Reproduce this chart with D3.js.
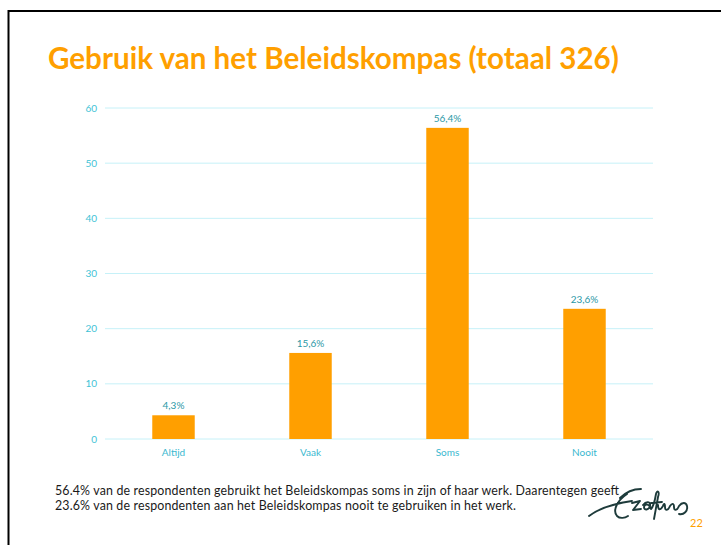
<!DOCTYPE html>
<html>
<head>
<meta charset="utf-8">
<script src="https://cdn.jsdelivr.net/npm/d3@7"></script>
<style>
  body { margin: 0; background: #fff; }
  svg { display: block; font-family: Lato, "Open Sans", sans-serif; }
  .tick-label { fill: #3fc3d6; font-size: 10px; }
  .cat-label { fill: #3ab8cf; font-size: 10px; }
  .val-label { fill: #2b98a6; font-size: 10px; }
  .footer { fill: #1a1a1a; font-size: 12.4px; }
</style>
</head>
<body>
<div id="chart"></div>
<script>
// data
const categories = ["Altijd", "Vaak", "Soms", "Nooit"]
const percentages = [4.3, 15.6, 56.4, 23.6]
const yTicks = [0, 10, 20, 30, 40, 50, 60]
const titleText = "Gebruik van het Beleidskompas (totaal 326)"
const footerLines = [
    "56.4% van de respondenten gebruikt het Beleidskompas soms in zijn of haar werk. Daarentegen geeft",
    "23.6% van de respondenten aan het Beleidskompas nooit te gebruiken in het werk."
]

const width = 721
const height = 545
const orange = "#ff9f00"

const $svg = d3.select("#chart").append("svg")
    .attr("width", width)
    .attr("height", height)

// slide frame
$svg.append("rect")
    .attr("x", 8.5)
    .attr("y", 11)
    .attr("width", width + 20)
    .attr("height", height + 20)
    .attr("fill", "none")
    .attr("stroke", "#000")
    .attr("stroke-width", 2)

$svg.append("text")
    .attr("x", 48)
    .attr("y", 69)
    .attr("fill", orange)
    .style("font-size", "29.6px")
    .style("font-weight", 700)
    .text(titleText)

const xScale = d3.scaleBand()
    .domain(categories)
    .range([105, 653])
    .paddingInner(0.69)
    .paddingOuter(0.345)

const yScale = d3.scaleLinear()
    .domain([0, 60])
    .range([439, 108])

// gridlines
$svg.selectAll(".grid")
    .data(yTicks)
    .enter().append("line")
    .attr("class", "grid")
    .attr("x1", 105)
    .attr("x2", 653)
    .attr("y1", d => yScale(d))
    .attr("y2", d => yScale(d))
    .attr("stroke", "#c6f1f8")
    .attr("stroke-width", 1)

$svg.selectAll(".tick-label")
    .data(yTicks)
    .enter().append("text")
    .attr("class", "tick-label")
    .attr("x", 97)
    .attr("y", d => yScale(d))
    .attr("dy", "0.35em")
    .attr("text-anchor", "end")
    .text(d => d)

const barData = categories.map((c, i) => [c, percentages[i]])

$svg.selectAll(".bar")
    .data(barData)
    .enter().append("rect")
    .attr("class", "bar")
    .attr("x", ([k]) => xScale(k))
    .attr("width", xScale.bandwidth())
    .attr("y", ([, d]) => yScale(d))
    .attr("height", ([, d]) => yScale(0) - yScale(d))
    .attr("fill", orange)

$svg.selectAll(".val-label")
    .data(barData)
    .enter().append("text")
    .attr("class", "val-label")
    .attr("x", ([k]) => xScale(k) + xScale.bandwidth() / 2)
    .attr("y", ([, d]) => yScale(d) - 6)
    .attr("text-anchor", "middle")
    .text(([, d]) => `${String(d).replace(".", ",")}%`)

$svg.selectAll(".cat-label")
    .data(categories)
    .enter().append("text")
    .attr("class", "cat-label")
    .attr("x", d => xScale(d) + xScale.bandwidth() / 2)
    .attr("y", 456)
    .attr("text-anchor", "middle")
    .text(d => d)

const footerWidths = [564, 461]
$svg.selectAll(".footer")
    .data(footerLines)
    .enter().append("text")
    .attr("class", "footer")
    .attr("x", 55)
    .attr("y", (d, i) => 494.5 + i * 15)
    .attr("textLength", (d, i) => footerWidths[i])
    .attr("lengthAdjust", "spacing")
    .text(d => d)

// rough Erasmus signature
const $logo = $svg.append("g")
    .attr("fill", "none")
    .attr("stroke", "#1e3b3b")
    .attr("stroke-width", 1.9)
    .attr("stroke-linecap", "round")
    .attr("stroke-linejoin", "round")
$logo.append("path")
    .attr("d", "M589,516 C598,509 612,504 632,501 M620,498 C626,492 634,489 641,489 M627,494 C618,500 612,510 617,516 C620,519 625,518 628,516")
$logo.append("path")
    .attr("d", "M632,503 L640,501 L633,510 L641,509 M643,505 C646,501 651,501 650,506 C649,510 644,511 644,507 C645,503 650,504 651,509 C653,507 655,500 656,494 C657,490 660,491 658,497 L654,519 M651,503 L662,502 M658,505 C658,510 660,511 663,506 C664,503 665,503 665,507 C665,511 668,511 670,506 C672,503 674,503 674,507 C674,511 677,511 679,506 C682,502 686,502 687,506 C688,511 684,515 679,514")

$svg.append("text")
    .attr("x", 690)
    .attr("y", 527)
    .attr("fill", orange)
    .style("font-size", "11px")
    .text("22")
</script>
</body>
</html>
